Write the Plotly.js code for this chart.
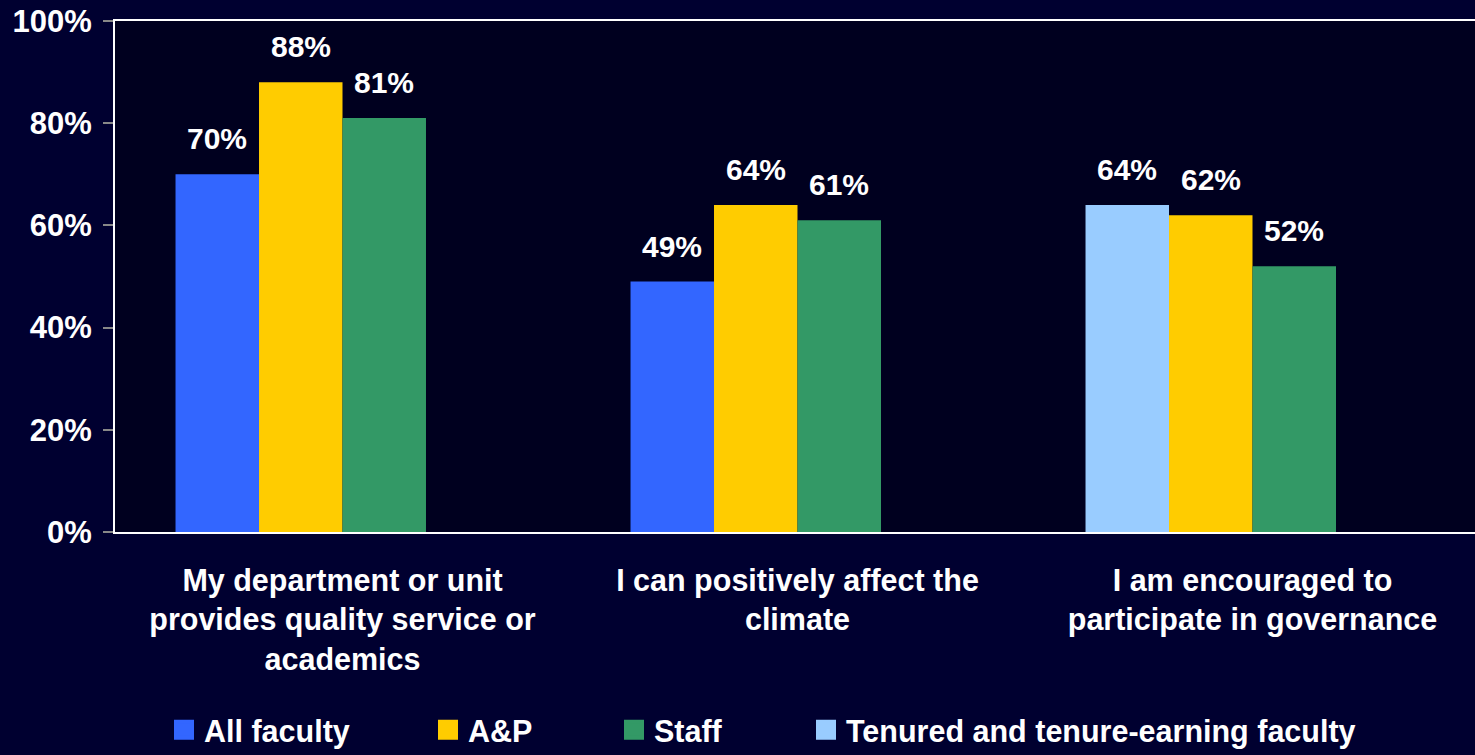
<!DOCTYPE html>
<html>
<head>
<meta charset="utf-8">
<script src="https://cdn.plot.ly/plotly-3.0.1.min.js"></script>
<style>html,body{margin:0;padding:0;background:#000030;}#chart{width:1475px;height:755px;}</style>
</head>
<body>
<div id="chart"></div>
<script>
// ---- data ----
const categories = [
  'My department or unit<br>provides quality service or<br>academics',
  'I can positively affect the<br>climate',
  'I am encouraged to<br>participate in governance'
];
const seriesNames = ['All faculty', 'A&P', 'Staff', 'Tenured and tenure-earning faculty'];
const allFaculty = [70, 49, null];
const ap = [88, 64, 62];
const staff = [81, 61, 52];
const tenured = [null, null, 64];
const yTicks = [0, 20, 40, 60, 80, 100];
const yTickLabels = ['0%', '20%', '40%', '60%', '80%', '100%'];

// ---- styling ----
const colors = ['#3366FF', '#FFCC00', '#339966', '#99CCFF'];
const seriesData = [allFaculty, ap, staff, tenured];
const barWidth = 0.1835;
const offsets = [-0.367, -0.1835, 0, -0.367];
const FONT = 'Liberation Sans, Arial, sans-serif';

const traces = [];
const annotations = [];
seriesData.forEach((vals, s) => {
  traces.push({
    type: 'bar',
    x: categories,
    y: vals,
    width: barWidth,
    offset: offsets[s],
    marker: {color: colors[s], line: {width: 0}},
    showlegend: false,
    hoverinfo: 'skip'
  });
  vals.forEach((v, i) => {
    if (v === null) return;
    annotations.push({
      x: i + offsets[s] + barWidth / 2,
      y: v,
      xref: 'x', yref: 'y',
      text: v + '%',
      showarrow: false,
      yanchor: 'bottom',
      xanchor: 'center',
      yshift: 17,
      font: {family: FONT, size: 30, color: '#FFFFFF', weight: 'bold'}
    });
  });
});

// legend-only marker traces (one legend each, to match spacing)
const legendX = [164, 428, 614, 806];
seriesNames.forEach((name, s) => {
  traces.push({
    type: 'scatter',
    mode: 'markers',
    x: [null], y: [null],
    name: name,
    legend: s === 0 ? 'legend' : 'legend' + (s + 1),
    marker: {symbol: 'square', size: 16, color: colors[s], line: {width: 4, color: colors[s]}},
    hoverinfo: 'skip'
  });
});

const layout = {
  width: 1475, height: 755,
  paper_bgcolor: '#000030',
  plot_bgcolor: '#00001f',
  margin: {l: 115, r: 0, t: 21, b: 223},
  barmode: 'overlay',
  font: {family: FONT, size: 30, color: '#FFFFFF', weight: 'bold'},
  xaxis: {
    type: 'category',
    categoryorder: 'array', categoryarray: categories,
    range: [-0.5, 2.489],
    showline: true, linecolor: '#FFFFFF', linewidth: 2, mirror: true,
    ticks: '', showgrid: false, zeroline: false,
    ticklabelstandoff: 20,
    tickfont: {family: FONT, size: 30.5, color: '#FFFFFF', weight: 'bold'}
  },
  yaxis: {
    range: [0, 100],
    tickmode: 'array',
    tickvals: yTicks,
    ticktext: yTickLabels,
    showline: true, linecolor: '#FFFFFF', linewidth: 2,
    ticks: 'outside', ticklen: 10, tickwidth: 2, tickcolor: '#888888',
    showgrid: false, zeroline: false,
    ticklabelstandoff: 5,
    tickfont: {family: FONT, size: 31, color: '#FFFFFF', weight: 'bold'}
  },
  annotations: annotations,
  showlegend: true
};
seriesNames.forEach((name, s) => {
  const key = s === 0 ? 'legend' : 'legend' + (s + 1);
  layout[key] = {
    orientation: 'h',
    xref: 'container', yref: 'container',
    x: legendX[s] / 1475, y: 1 - 730 / 755,
    xanchor: 'left', yanchor: 'middle',
    bgcolor: 'rgba(0,0,0,0)', borderwidth: 0,
    font: {family: FONT, size: 30.5, color: '#FFFFFF', weight: 'bold'}
  };
});

Plotly.newPlot('chart', traces, layout, {displayModeBar: false, staticPlot: true});
</script>
</body>
</html>
